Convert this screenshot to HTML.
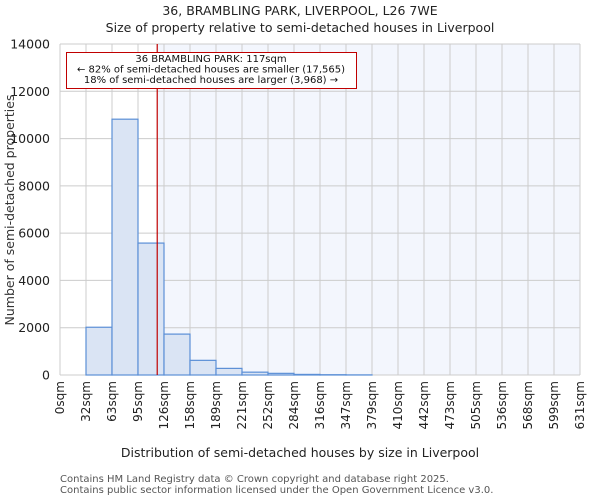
<!DOCTYPE html>
<html><head><meta charset="utf-8"><style>
body{margin:0;background:#fff}
svg{display:block;font-family:"DejaVu Sans","Liberation Sans",sans-serif}
</style></head><body>
<svg id="c" width="600" height="500" xmlns="http://www.w3.org/2000/svg">
<text x="300" y="15" text-anchor="middle" font-size="12.5" fill="#222">36, BRAMBLING PARK, LIVERPOOL, L26 7WE</text>
<text x="300" y="32" text-anchor="middle" font-size="12.5" fill="#222">Size of property relative to semi-detached houses in Liverpool</text>
<text x="300" y="457" text-anchor="middle" font-size="12.5" fill="#222">Distribution of semi-detached houses by size in Liverpool</text>
<text transform="translate(14,210) rotate(-90)" text-anchor="middle" font-size="12.5" fill="#333">Number of semi-detached properties</text>
<text x="60" y="482" font-size="10" fill="#555">Contains HM Land Registry data © Crown copyright and database right 2025.</text>
<text x="60" y="493" font-size="10" fill="#555">Contains public sector information licensed under the Open Government Licence v3.0.</text>
<g id="plot"></g>
</svg>
<script>
const tickLabels=["0sqm","32sqm","63sqm","95sqm","126sqm","158sqm","189sqm","221sqm","252sqm","284sqm","316sqm","347sqm","379sqm","410sqm","442sqm","473sqm","505sqm","536sqm","568sqm","599sqm","631sqm"];
const counts=[0,2020,10820,5580,1730,620,280,120,70,25,12,5,0,0,0,0,0,0,0,0];
const yTicks=[0,2000,4000,6000,8000,10000,12000,14000];
const propertySize=117;
const binWidth=31.55;
const annotLines=["36 BRAMBLING PARK: 117sqm","← 82% of semi-detached houses are smaller (17,565)","18% of semi-detached houses are larger (3,968) →"];
const L=60,R=580,T=44,B=375,NS="http://www.w3.org/2000/svg";
const xs=v=>L+(v/(binWidth*counts.length))*(R-L);
const ys=v=>B-(v/14000)*(B-T);
const g=document.getElementById('plot');
function mk(t,a){const e=document.createElementNS(NS,t);for(const k in a)e.setAttribute(k,a[k]);g.appendChild(e);return e;}
const px=xs(propertySize)+0.8;
let e=mk('rect',{x:px,y:T,width:R-px,height:B-T,fill:'#f3f6fd'});


const bw=(R-L)/counts.length;
tickLabels.forEach((t,i)=>{const x=L+i*bw;
 e=mk('line',{x1:x,y1:T,x2:x,y2:B,stroke:'#ccc','stroke-width':1});
 
 
 e=mk('text',{transform:`translate(${x+4},381) rotate(-90)`,'text-anchor':'end','font-size':12,fill:'#222'});
 e.textContent=t;
 
 
});
yTicks.forEach(v=>{const y=ys(v);
 e=mk('line',{x1:L,y1:y,x2:R,y2:y,stroke:'#ccc','stroke-width':1});
 
 
 e=mk('text',{x:L-10,y:y+4.5,'text-anchor':'end','font-size':12.5,fill:'#222'});
 e.textContent=v;
 
 
});
counts.forEach((c,i)=>{if(c<=0)return;
 e=mk('rect',{x:L+i*bw,y:ys(c),width:bw,height:B-ys(c),fill:'#dae4f4',stroke:'#5b8fd6','stroke-width':1.2});
 
 
});
e=mk('line',{x1:px,y1:T,x2:px,y2:B,stroke:'#c00000','stroke-width':1.2});


e=mk('rect',{x:66.5,y:52.5,width:290,height:36,fill:'#fff',stroke:'#c00000','stroke-width':1});


annotLines.forEach((t,i)=>{
 e=mk('text',{x:211,y:62+i*10.5,'text-anchor':'middle','font-size':10,fill:'#111'});
 e.textContent=t;
 
 
});
</script>
</body></html>
